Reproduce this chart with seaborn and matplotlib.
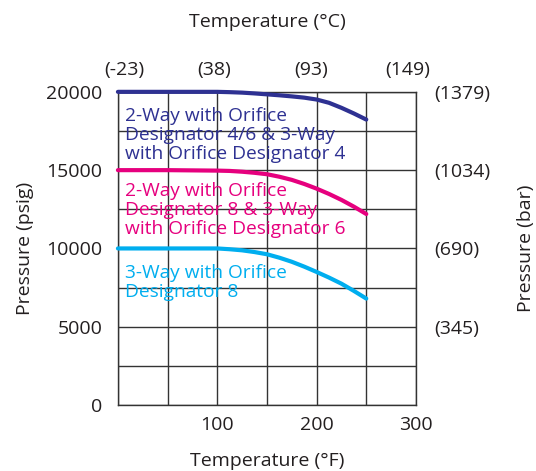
import numpy as np
import pandas as pd
import seaborn as sns
import matplotlib.pyplot as plt

# temperature (F) and max pressure (psig)
temp_f = [0, 50, 100, 112.5, 125, 137.5, 150, 162.5, 175, 187.5, 200, 212.5, 225, 237.5, 250]
p_orif_46 = [20000, 20000, 20000, 19980, 19950, 19900, 19840, 19780, 19710, 19630, 19510, 19300, 18980, 18620, 18230]
p_orif_86 = [15000, 15000, 14970, 14950, 14900, 14830, 14740, 14580, 14380, 14120, 13820, 13480, 13100, 12670, 12200]
p_orif_8 = [10000, 10000, 10000, 9950, 9880, 9770, 9630, 9410, 9150, 8840, 8500, 8140, 7750, 7290, 6800]

labels = ["2-Way with Orifice\nDesignator 4/6 & 3-Way\nwith Orifice Designator 4",
          "2-Way with Orifice\nDesignator 8 & 3-Way\nwith Orifice Designator 6",
          "3-Way with Orifice\nDesignator 8"]
colors = ["#2e3192", "#e6007e", "#00aeef"]

psi_ticks = [0, 5000, 10000, 15000, 20000]
bar_labels = ["(345)", "(690)", "(1034)", "(1379)"]
f_ticks = [100, 200, 300]
c_labels = ["(-23)", "(38)", "(93)", "(149)"]

sns.set_style("white")
plt.rcParams['font.family'] = ['Open Sans', 'DejaVu Sans']

fig = plt.figure(figsize=(5.36, 4.71), dpi=100)
ax = fig.add_axes([0.220, 0.140, 0.556, 0.665])

grid_c = "#333333"
txt_c = "#231f20"
fs = 14
series = [p_orif_46, p_orif_86, p_orif_8]
for vals, col in zip(series, colors):
    df = pd.DataFrame({"T": temp_f, "P": vals})
    sns.lineplot(data=df, x="T", y="P", color=col, linewidth=3, ax=ax, clip_on=False, zorder=5)

ax.set_xlim(0, 300)
ax.set_ylim(0, 20000)

xt = np.arange(0, 301, 50)
yt = np.arange(0, 20001, 2500)
ax.set_xticks(xt)
ax.set_xticklabels([str(t) if t in f_ticks else "" for t in xt])
ax.set_yticks(yt)
ax.set_yticklabels([str(t) if t in psi_ticks else "" for t in yt])
ax.grid(True, color=grid_c, linewidth=1.0)
for s in ax.spines.values():
    s.set_color(grid_c)
    s.set_linewidth(1.0)
ax.tick_params(length=0, labelsize=fs, colors=txt_c)
ax.tick_params(axis="y", pad=11)
ax.tick_params(axis="x", pad=8)
ax.set_xlabel("Temperature (°F)", fontsize=fs, color=txt_c, labelpad=13)
ax.set_ylabel("Pressure (psig)", fontsize=fs, color=txt_c, labelpad=9)

# right axis: bar
axr = ax.twinx()
axr.set_ylim(0, 20000)
axr.set_yticks(psi_ticks[1:])
axr.set_yticklabels(bar_labels)
axr.tick_params(length=0, labelsize=fs, colors=txt_c, pad=13)
axr.set_ylabel("Pressure (bar)", fontsize=fs, color=txt_c, labelpad=19)
for s in axr.spines.values():
    s.set_visible(False)

# top axis: celsius
axt = ax.twiny()
axt.set_xlim(0, 300)
axt.set_xticks([6, 97, 194, 292])
axt.set_xticklabels(c_labels)
axt.tick_params(length=0, labelsize=fs, colors=txt_c, pad=9.5)
axt.set_xlabel("Temperature (°C)", fontsize=fs, color=txt_c, labelpad=24)
for s in axt.spines.values():
    s.set_visible(False)

text_y = [17250, 12460, 7800]
for lab, col, ty in zip(labels, colors, text_y):
    ax.text(7, ty, lab, color=col, fontsize=13.8, va="center", ha="left",
            linespacing=1.08, zorder=6)

fig.savefig("out.png", dpi=100)
